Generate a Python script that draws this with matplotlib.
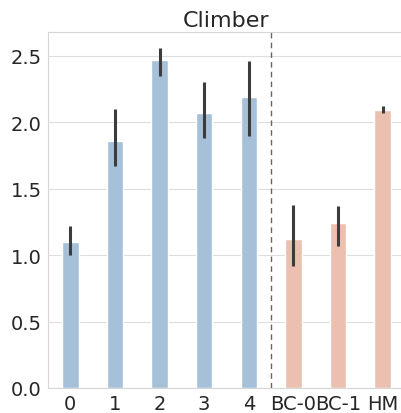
import matplotlib.pyplot as plt
import seaborn as sns

sns.set_style("whitegrid")
plt.rcParams['font.family'] = ['DejaVu Sans']

labels = ["0", "1", "2", "3", "4", "BC-0", "BC-1", "HM"]
means = [1.10, 1.86, 2.47, 2.07, 2.19, 1.12, 1.24, 2.09]
lows = [1.00, 1.67, 2.35, 1.88, 1.90, 0.92, 1.07, 2.07]
highs = [1.22, 2.10, 2.56, 2.30, 2.46, 1.38, 1.37, 2.12]
groups = ["ours"] * 5 + ["base"] * 3
palette = {"ours": "#a5c0d8", "base": "#ebc0b0"}

fig = plt.figure(figsize=(4.02, 4.14), dpi=100)
ax = fig.add_axes([48 / 402, 25 / 414, 357 / 402, 356 / 414])

xs = list(range(len(labels)))
ax.bar(xs, means, width=0.37, color=[palette[g] for g in groups], zorder=2)
yerr = [[m - l for m, l in zip(means, lows)], [h - m for m, h in zip(means, highs)]]
ax.errorbar(xs, means, yerr=yerr, fmt="none", ecolor="#3c3c3c", elinewidth=2.2, capsize=0, zorder=3)
ax.axvline(4.5, color="#666666", linestyle=(0, (4, 3)), linewidth=1.0, zorder=1)

ax.set_xlim(-0.5, 7.5)
ax.set_ylim(0, 2.68)
ax.set_xticks(xs)
ax.set_xticklabels(labels)
ax.set_yticks([0, 0.5, 1.0, 1.5, 2.0, 2.5])
ax.tick_params(labelsize=14, colors="#262626", pad=1)
ax.grid(axis="y", color="#dedede")
ax.grid(axis="x", visible=False)
for s in ax.spines.values():
    s.set_color("#d6d6d6")
ax.set_title("Climber", fontsize=16, color="#262626", pad=4)

fig.savefig("out.png", dpi=100)
